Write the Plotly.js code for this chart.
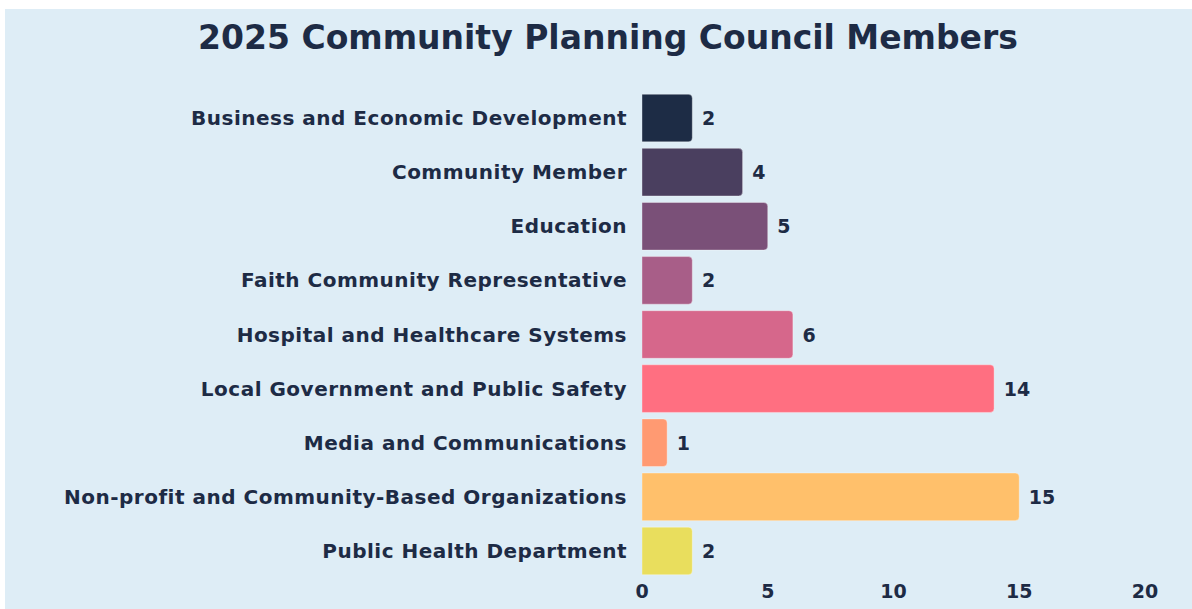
<!DOCTYPE html>
<html>
<head>
<meta charset="utf-8">
<script src="https://cdn.plot.ly/plotly-3.0.1.min.js"></script>
<style>
  html, body { margin: 0; padding: 0; background: #ffffff; }
  #chart { position: absolute; left: 5px; top: 9px; width: 1187px; height: 600px; }
  #chart .ytick text { letter-spacing: 0.5px; }
</style>
</head>
<body>
<div id="chart"></div>
<script>
const categories = [
  "Business and Economic Development",
  "Community Member",
  "Education",
  "Faith Community Representative",
  "Hospital and Healthcare Systems",
  "Local Government and Public Safety",
  "Media and Communications",
  "Non-profit and Community-Based Organizations",
  "Public Health Department"
];
const members = [2, 4, 5, 2, 6, 14, 1, 15, 2];
const barColors = ["#1d2c45", "#4a3f5f", "#7a5078", "#a85e88", "#d6678b", "#ff6f81", "#ff9a72", "#ffc06b", "#e9de5d"];
const xTicks = [0, 5, 10, 15, 20];

const navy = "#1d2b45";
const fontFam = "'DejaVu Sans', Inter, sans-serif";

const trace = {
  type: "bar",
  orientation: "h",
  y: categories,
  x: members,
  text: members.map(v => " " + v),
  textposition: "outside",
  cliponaxis: false,
  textfont: { family: fontFam, size: 19, color: navy, weight: 700 },
  marker: { color: barColors, line: { color: "rgba(255,255,255,0.35)", width: 1 } },
  hoverinfo: "x+y"
};

const layout = {
  width: 1187,
  height: 600,
  paper_bgcolor: "#deedf6",
  plot_bgcolor: "#deedf6",
  margin: { l: 637, r: 47, t: 82, b: 31, pad: 0 },
  bargap: 0.12,
  barcornerradius: 4,
  showlegend: false,
  title: {
    text: "2025 Community Planning Council Members",
    font: { family: fontFam, size: 33, color: navy, weight: 700 },
    x: 0.508, xanchor: "center",
    y: 1 - 28 / 600, yref: "container", yanchor: "middle"
  },
  xaxis: {
    range: [0, 20],
    tickvals: xTicks,
    ticktext: xTicks.map(String),
    showgrid: false,
    zeroline: false,
    showline: false,
    ticks: "",
    tickfont: { family: fontFam, size: 19, color: navy, weight: 700 },
    fixedrange: true
  },
  yaxis: {
    autorange: "reversed",
    showgrid: false,
    zeroline: false,
    showline: false,
    ticks: "",
    ticklabelstandoff: 14,
    tickfont: { family: fontFam, size: 20, color: navy, weight: 700 },
    fixedrange: true
  }
};

Plotly.newPlot("chart", [trace], layout, { displayModeBar: false, staticPlot: true });
</script>
</body>
</html>
